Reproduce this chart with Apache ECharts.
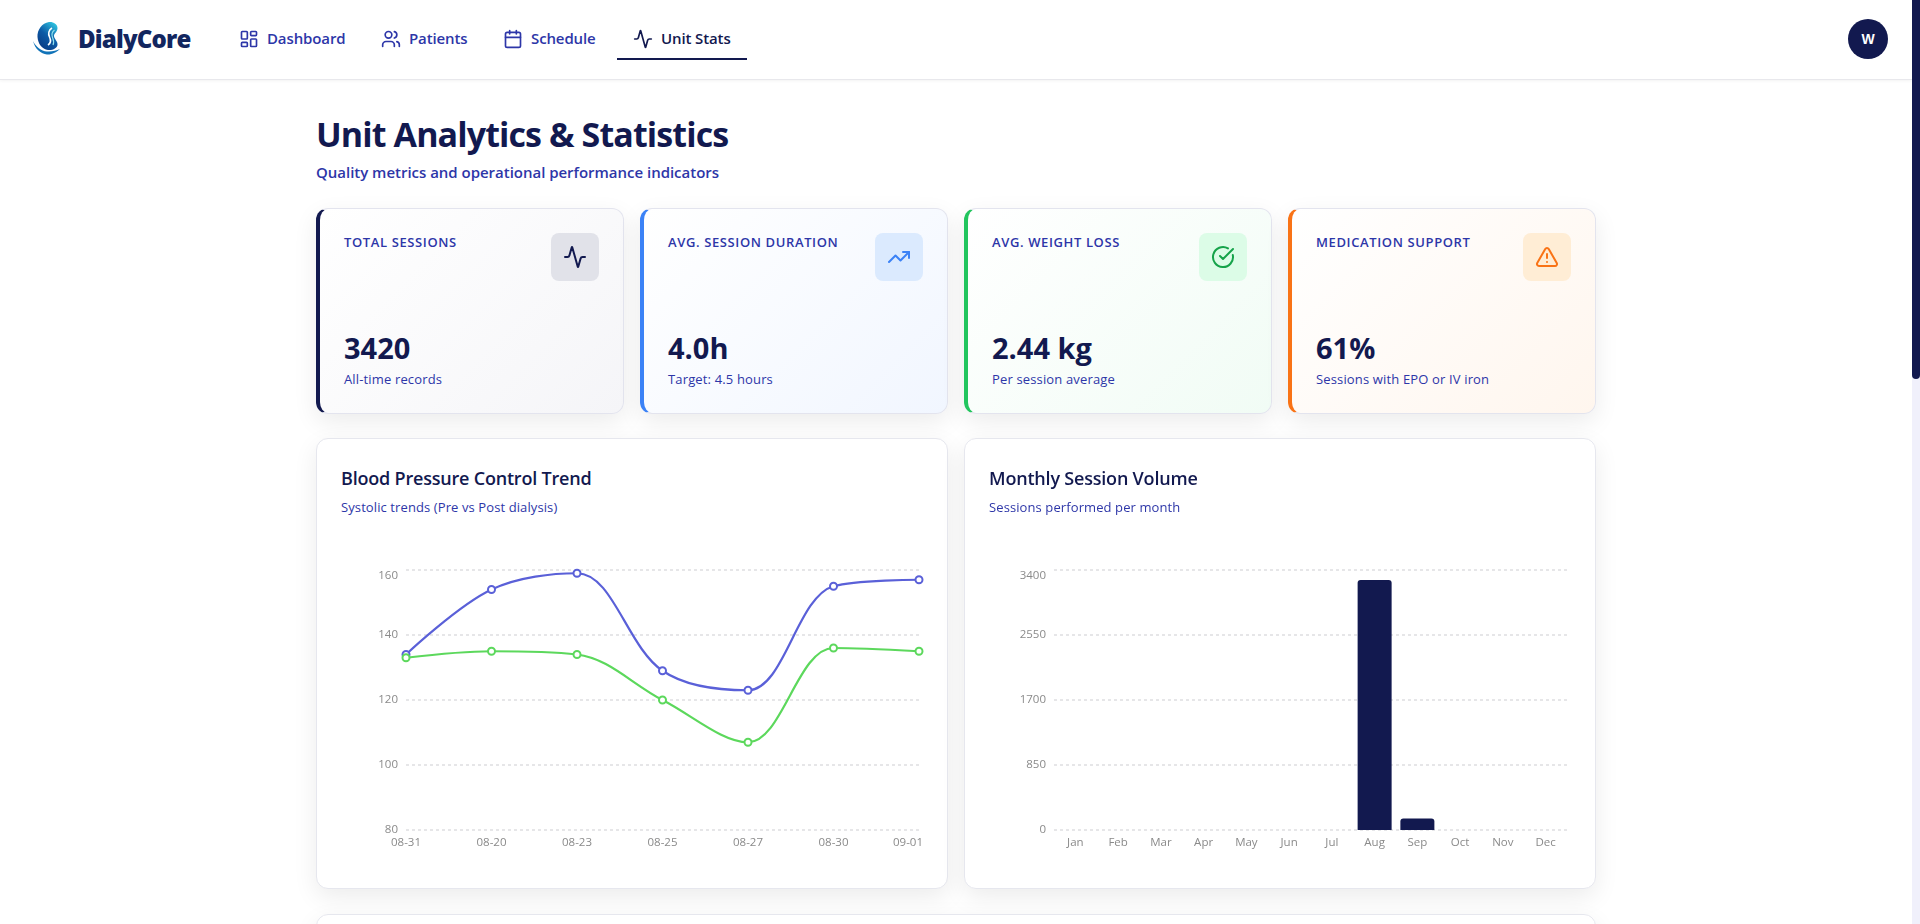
<!DOCTYPE html>
<html lang="en">
<head>
<meta charset="UTF-8">
<title>DialyCore - Unit Stats</title>
<script src="https://cdn.jsdelivr.net/npm/echarts@6/dist/echarts.min.js"></script>
<style>
  * { box-sizing: border-box; margin: 0; padding: 0; }
  html, body { width: 1920px; height: 924px; overflow: hidden; background: #fff; }
  body { font-family: "Open Sans", sans-serif; color: #12194f; position: relative; }
  .abs { position: absolute; white-space: nowrap; }
  svg.ic { fill: none; stroke: currentColor; stroke-width: 2; stroke-linecap: round; stroke-linejoin: round; display: block; }

  header { position: absolute; left: 0; top: 0; width: 1912px; height: 80px; background: #fff; border-bottom: 1px solid #e8e8ec; box-shadow: 0 1px 3px rgba(0,0,0,.05); }
  .brand { left: 78px; top: 22px; font-size: 24px; line-height: 34px; font-weight: 800; letter-spacing: -.8px; color: #12265f; }
  .nav { top: 28px; font-size: 15px; line-height: 20px; font-weight: 600; color: #2d36a8; letter-spacing: -.12px; }
  .nav.on { color: #12194f; }
  .nav-ic { top: 29px; color: #2d36a8; }
  .nav-ic.on { color: #12194f; }
  .underline { left: 617px; top: 58px; width: 130px; height: 2px; background: #12194f; }
  .avatar { left: 1848px; top: 19px; width: 40px; height: 40px; border-radius: 50%; background: #12194f; color: #fff; font: 700 14px/40px "Liberation Sans", sans-serif; text-align: center; }

  h1 { left: 316px; top: 110px; font-size: 34px; line-height: 48px; font-weight: 700; letter-spacing: -.89px; }
  .lead { left: 316px; top: 161px; font-size: 15px; line-height: 22px; font-weight: 600; color: #2d36a8; letter-spacing: -.02px; }

  .stat { position: absolute; top: 208px; width: 308px; height: 206px; border-radius: 12px; border: 1px solid #e3e4ee; border-left-width: 4px; box-shadow: 0 8px 24px rgba(0,0,0,.08); }
  .stat .label { left: 24px; top: 24px; font-size: 13px; line-height: 18px; font-weight: 600; color: #2d36a8; letter-spacing: .62px; }
  .stat .value { left: 24px; top: 119px; font-size: 29px; line-height: 40px; font-weight: 700; color: #12194f; }
  .stat .sub { left: 24px; top: 161px; font-size: 13px; line-height: 18px; color: #2d36a8; letter-spacing: .15px; }
  .stat .box { position: absolute; right: 24px; top: 24px; width: 48px; height: 48px; border-radius: 8px; display: flex; align-items: center; justify-content: center; }

  .card { position: absolute; background: #fff; border: 1px solid #e6e7ee; border-radius: 12px; box-shadow: 0 8px 24px rgba(0,0,0,.08); }
  .card h3 { left: 24px; top: 26px; font-size: 18px; line-height: 26px; font-weight: 600; color: #12194f; letter-spacing: -.2px; }
  .card p { left: 24px; top: 59px; font-size: 13px; line-height: 18px; color: #2d36a8; letter-spacing: .1px; }
  .chart { position: absolute; left: 0; top: 100px; width: 630px; height: 349px; }

  .track { position: fixed; left: 1912px; top: 0; width: 8px; height: 924px; background: #f0f0fb; }
  .thumb { position: absolute; left: 0; top: 0; width: 8px; height: 379px; background: #12194f; border-radius: 0 0 4px 4px; }
</style>
</head>
<body>
<header>
  <svg class="abs" style="left:32px;top:21px" width="30" height="36" viewBox="0 0 30 36">
    <defs>
      <linearGradient id="lg" x1="0.8" y1="0" x2="0.25" y2="0.9">
        <stop offset="0" stop-color="#2fc4e0"/>
        <stop offset="0.55" stop-color="#0c5aa6"/>
        <stop offset="1" stop-color="#0a3f88"/>
      </linearGradient>
    </defs>
    <path d="M17 1C10 2 5 9 5.500 16 6 23 10 28 16 29 21 29.500 25 27 25.500 24 26 20 22 18 22 15 22 12 25.500 11 25.500 7 25.500 3 21 .5 17 1z" fill="url(#lg)"/>
    <path d="M20 7C16.500 9 16 13 17.500 16 19 19 19 22 16 24" fill="none" stroke="#ffffff" stroke-width="1.600"/>
    <path d="M22.500 9C20 11 19.500 14 20.500 16.500 21.500 19 22.500 21 21 24" fill="none" stroke="#8fe0ee" stroke-width="1.200"/>
    <path d="M1 20C3 28 9 33 15 33.500 20 33.800 25 31 28 28 24 29.500 20 31 15 30.500 9 30 4 26 1 20z" fill="#1173b8"/>
  </svg>
  <div class="abs brand">DialyCore</div>

  <svg class="abs ic nav-ic" style="left:239px" width="20" height="20" viewBox="0 0 24 24"><rect x="3" y="3" width="7" height="9" rx="1"/><rect x="14" y="3" width="7" height="5" rx="1"/><rect x="14" y="12" width="7" height="9" rx="1"/><rect x="3" y="16" width="7" height="5" rx="1"/></svg>
  <div class="abs nav" style="left:267px">Dashboard</div>
  <svg class="abs ic nav-ic" style="left:381px" width="20" height="20" viewBox="0 0 24 24"><path d="M16 21v-2a4 4 0 0 0-4-4H6a4 4 0 0 0-4 4v2"/><circle cx="9" cy="7" r="4"/><path d="M22 21v-2a4 4 0 0 0-3-3.870"/><path d="M16 3.130a4 4 0 0 1 0 7.750"/></svg>
  <div class="abs nav" style="left:409px">Patients</div>
  <svg class="abs ic nav-ic" style="left:503px" width="20" height="20" viewBox="0 0 24 24"><path d="M8 2v4"/><path d="M16 2v4"/><rect x="3" y="4" width="18" height="18" rx="2"/><path d="M3 10h18"/></svg>
  <div class="abs nav" style="left:531px">Schedule</div>
  <svg class="abs ic nav-ic on" style="left:633px" width="20" height="20" viewBox="0 0 24 24"><path d="M22 12h-2.480a2 2 0 0 0-1.930 1.460l-2.350 8.360a.25.25 0 0 1-.48 0L9.240 2.180a.25.25 0 0 0-.48 0l-2.350 8.360A2 2 0 0 1 4.490 12H2"/></svg>
  <div class="abs nav on" style="left:661px">Unit Stats</div>
  <div class="abs underline"></div>
  <div class="abs avatar">W</div>
</header>

<h1 class="abs">Unit Analytics &amp; Statistics</h1>
<div class="abs lead">Quality metrics and operational performance indicators</div>

<div class="stat" style="left:316px;border-left-color:#12194f;background:linear-gradient(135deg,#fff 0%,#f5f5f8 100%)">
  <div class="abs label">TOTAL SESSIONS</div>
  <div class="box" style="background:#e1e2e9;color:#12194f"><svg class="ic" width="24" height="24" viewBox="0 0 24 24"><path d="M22 12h-2.480a2 2 0 0 0-1.930 1.460l-2.350 8.360a.25.25 0 0 1-.48 0L9.240 2.180a.25.25 0 0 0-.48 0l-2.350 8.360A2 2 0 0 1 4.490 12H2"/></svg></div>
  <div class="abs value">3420</div>
  <div class="abs sub">All-time records</div>
</div>
<div class="stat" style="left:640px;border-left-color:#3b82f6;background:linear-gradient(135deg,#fff 0%,#f1f6ff 100%)">
  <div class="abs label">AVG. SESSION DURATION</div>
  <div class="box" style="background:#dbeafe;color:#3b82f6"><svg class="ic" width="24" height="24" viewBox="0 0 24 24"><path d="M22 7 13.500 15.500 8.500 10.500 2 17"/><path d="M16 7h6v6"/></svg></div>
  <div class="abs value">4.0h</div>
  <div class="abs sub">Target: 4.5 hours</div>
</div>
<div class="stat" style="left:964px;border-left-color:#22c55e;background:linear-gradient(135deg,#fff 0%,#f1fcf5 100%)">
  <div class="abs label">AVG. WEIGHT LOSS</div>
  <div class="box" style="background:#dcfce7;color:#16a34a"><svg class="ic" width="24" height="24" viewBox="0 0 24 24"><path d="M21.801 10A10 10 0 1 1 17 3.335"/><path d="m9 11 3 3L22 4"/></svg></div>
  <div class="abs value">2.44 kg</div>
  <div class="abs sub">Per session average</div>
</div>
<div class="stat" style="left:1288px;border-left-color:#f97316;background:linear-gradient(135deg,#fff 0%,#fff6ee 100%)">
  <div class="abs label">MEDICATION SUPPORT</div>
  <div class="box" style="background:#ffedd5;color:#f97316"><svg class="ic" width="24" height="24" viewBox="0 0 24 24"><path d="m21.730 18-8-14a2 2 0 0 0-3.480 0l-8 14A2 2 0 0 0 4 21h16a2 2 0 0 0 1.730-3"/><path d="M12 9v4"/><path d="M12 17h.01"/></svg></div>
  <div class="abs value">61%</div>
  <div class="abs sub">Sessions with EPO or IV iron</div>
</div>

<div class="card" style="left:316px;top:438px;width:632px;height:451px">
  <h3 class="abs">Blood Pressure Control Trend</h3>
  <p class="abs">Systolic trends (Pre vs Post dialysis)</p>
  <div class="chart" id="bpChart"></div>
</div>
<div class="card" style="left:964px;top:438px;width:632px;height:451px">
  <h3 class="abs">Monthly Session Volume</h3>
  <p class="abs">Sessions performed per month</p>
  <div class="chart" id="volChart"></div>
</div>
<div class="card" style="left:316px;top:914px;width:1280px;height:300px"></div>

<div class="track"><div class="thumb"></div></div>

<script>
  const bpDates = ['08-31', '08-20', '08-23', '08-25', '08-27', '08-30', '09-01'];
  const preSystolic = [134, 154, 159, 129, 123, 155, 157];
  const postSystolic = [133, 135, 134, 120, 107, 136, 135];

  const months = ['Jan', 'Feb', 'Mar', 'Apr', 'May', 'Jun', 'Jul', 'Aug', 'Sep', 'Oct', 'Nov', 'Dec'];
  const sessionCounts = [0, 0, 0, 0, 0, 0, 0, 3268, 152, 0, 0, 0];

  const font = '"Open Sans", sans-serif';
  const labelStyle = { color: '#8a8a8a', fontSize: 11.5, fontFamily: font };
  const gridLine = { lineStyle: { color: '#e6e6e8', width: 2, type: [3, 3] } };

  function lineSeries(name, data, color) {
    return {
      name: name,
      type: 'line',
      data: data,
      smooth: 0.35,
      symbol: 'emptyCircle',
      symbolSize: 7,
      lineStyle: { color: color, width: 2.2 },
      itemStyle: { color: color, borderWidth: 2 }
    };
  }

  const plainNumber = v => String(v);

  const bpChart = echarts.init(document.getElementById('bpChart'));
  bpChart.setOption({
    animation: false,
    grid: { left: 89, right: 28, top: 31, bottom: 58 },
    xAxis: {
      type: 'category',
      data: bpDates,
      boundaryGap: false,
      axisLine: { show: false },
      axisTick: { show: false },
      axisLabel: Object.assign({
        margin: 7,
        interval: 0,
        // last date sits left of its tick so it stays inside the card padding
        formatter: (v, i) => i === bpDates.length - 1 ? '{last|' + v + '}' : v,
        rich: { last: Object.assign({ padding: [0, 22, 0, 0] }, labelStyle) }
      }, labelStyle)
    },
    yAxis: {
      type: 'value',
      min: 80,
      max: 160,
      interval: 20,
      axisLine: { show: false },
      axisTick: { show: false },
      axisLabel: Object.assign({ margin: 8, verticalAlignMaxLabel: 'top', formatter: plainNumber }, labelStyle),
      splitLine: gridLine
    },
    series: [
      lineSeries('Pre dialysis', preSystolic, '#5a60d8'),
      lineSeries('Post dialysis', postSystolic, '#5cd85c')
    ]
  });

  const volChart = echarts.init(document.getElementById('volChart'));
  volChart.setOption({
    animation: false,
    grid: { left: 89, right: 28, top: 31, bottom: 58 },
    xAxis: {
      type: 'category',
      data: months,
      axisLine: { show: false },
      axisTick: { show: false },
      axisLabel: Object.assign({ margin: 7, interval: 0 }, labelStyle)
    },
    yAxis: {
      type: 'value',
      min: 0,
      max: 3400,
      interval: 850,
      axisLine: { show: false },
      axisTick: { show: false },
      axisLabel: Object.assign({ margin: 8, verticalAlignMaxLabel: 'top', formatter: plainNumber }, labelStyle),
      splitLine: gridLine
    },
    series: [{
      name: 'Sessions',
      type: 'bar',
      data: sessionCounts,
      barWidth: 34,
      itemStyle: { color: '#12194f', borderRadius: [3, 3, 0, 0] }
    }]
  });
</script>
</body>
</html>
